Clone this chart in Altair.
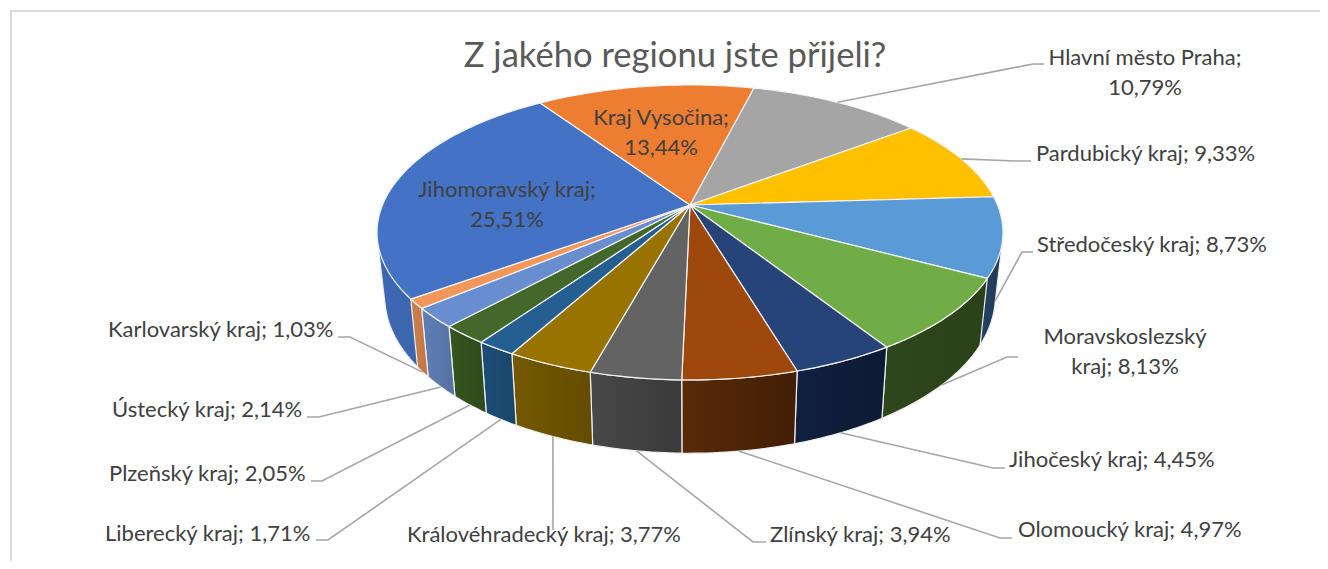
import math
import altair as alt
import pandas as pd

# ---- data (clockwise from the Vysočina / Praha boundary)
names = ["Hlavní město Praha", "Pardubický kraj", "Středočeský kraj", "Moravskoslezský kraj",
         "Jihočeský kraj", "Olomoucký kraj", "Zlínský kraj", "Královéhradecký kraj",
         "Liberecký kraj", "Plzeňský kraj", "Ústecký kraj", "Karlovarský kraj",
         "Jihomoravský kraj", "Kraj Vysočina"]
shares = [10.79, 9.33, 8.73, 8.13, 4.45, 4.97, 3.94, 3.77, 1.71, 2.05, 2.14, 1.03, 25.51, 13.44]
title_text = "Z jakého regionu jste přijeli?"

# ---- style
tops = ["#A5A5A5", "#FFC000", "#5B9BD5", "#70AD47", "#264478", "#9E480E", "#636363", "#997300",
        "#255E91", "#43682B", "#698ED0", "#F1975A", "#4472C4", "#ED7D31"]
walls = {
    2: ("#23415F", "#1F3A55"), 12: ("#3E68B4", "#3A5E9F"),  # silhouette walls come first
    3: ("#2F471C", "#2B4119"), 4: ("#112040", "#0D1A32"),
    5: ("#582A08", "#421E05"), 6: ("#484848", "#3A3A3A"), 7: ("#755800", "#634B00"),
    8: ("#1C4D77", "#1A4568"), 9: ("#36551F", "#2F4A1C"), 10: ("#5F7FB8", "#54719F"),
    11: ("#CC7F4E", "#C27745"),
}
hull_walls = {2, 12}  # walls that reach the disc's left/right silhouette

# ---- page geometry / projection of the tilted disc
W, H, M = 1312, 553, 8
CX, TOP_Y, TOP_A, TOP_B = 690, 205, 307.5, 142.4
BOT_Y, BOT_A, BOT_B = 267, 300, 151.6
K = 0.186
START = 14.2


def project(deg, level):
    t = math.radians(deg)
    u, v = math.sin(t), -math.cos(t)
    w = 1 - K * v
    if level == "top":
        return CX + TOP_A * u / w, TOP_Y + TOP_B * v / w
    return CX + BOT_A * u / w, BOT_Y + BOT_B * v / w


def arc(a0, a1, level):
    n = max(2, int(abs(a1 - a0)) + 2)
    return [project(a0 + (a1 - a0) * i / (n - 1), level) for i in range(n)]


def convex_hull(points):
    pts = sorted(set(points))

    def half(seq):
        out = []
        for p in seq:
            while len(out) > 1 and ((out[-1][0] - out[-2][0]) * (p[1] - out[-2][1])
                                    - (out[-1][1] - out[-2][1]) * (p[0] - out[-2][0])) <= 0:
                out.pop()
            out.append(p)
        return out[:-1]

    return half(pts) + half(pts[::-1])


edges = [START]
for s in shares:
    edges.append(edges[-1] + s * 3.6 * 100 / sum(shares))

xs = alt.Scale(domain=[M, M + W], range=[0, W])
ys = alt.Scale(domain=[M, M + H], range=[0, H])
X = alt.X("x:Q", scale=xs, axis=None)
Y = alt.Y("y:Q", scale=ys, axis=None)


def polygon(points, **mark):
    pts = list(points) + [points[0]]
    df = pd.DataFrame({"x": [p[0] for p in pts], "y": [p[1] for p in pts], "i": range(len(pts))})
    return alt.Chart(df).mark_line(strokeJoin="round", **mark).encode(x=X, y=Y, order="i:Q")


layers = []

# frame (left and top edges of the pasted picture)
frame = pd.DataFrame({"x": [11, 11, M + W], "y": [M + H, 11, 11], "i": [0, 1, 2]})
layers.append(alt.Chart(frame).mark_line(color="#DCDCDC", strokeWidth=2).encode(x=X, y=Y, order="i:Q"))

# outer walls
for i, (c0, c1) in walls.items():
    a0, a1 = edges[i], edges[i + 1]
    pts = arc(a0, a1, "top") + arc(a1, a0, "bot")
    if i in hull_walls:
        pts = convex_hull(pts)
    grad = {"gradient": "linear", "x1": 0, "x2": 1, "y1": 0, "y2": 0,
            "stops": [{"offset": 0, "color": c0}, {"offset": 1, "color": c1}]}
    layers.append(polygon(pts, fill=grad, stroke="#EFEFEF", strokeWidth=1.2))

# top faces
for i, c in enumerate(tops):
    pts = [(CX, TOP_Y)] + arc(edges[i], edges[i + 1], "top")
    layers.append(polygon(pts, fill=c, stroke="#F4F4F4", strokeWidth=1.2))

# ---- label layout: anchor x, baseline y, align, line break, elbow, leader end, leader start blend
layout = {
    0:  dict(x=1145, y=65,  align="center", br=True,  elbow=(1033, 64),  end=(1044, 64),  lvl=0),
    1:  dict(x=1036, y=161, align="left",   br=False, elbow=(1016, 161), end=(1031, 161), lvl=0),
    2:  dict(x=1037, y=252, align="left",   br=False, elbow=(1022, 252), end=(1033, 252), lvl=1),
    3:  dict(x=1125, y=344, align="center", br="Moravskoslezský\nkraj; ", elbow=(1007, 357), end=(1018, 357), lvl=1),
    4:  dict(x=1009, y=467, align="left",   br=False, elbow=(993, 468),  end=(1005, 468), lvl=1),
    5:  dict(x=1018, y=537, align="left",   br=False, elbow=(1000, 538), end=(1012, 538), lvl=1),
    6:  dict(x=770,  y=542, align="left",   br=False, elbow=(753, 542),  end=(766, 542),  lvl=1),
    7:  dict(x=407,  y=542, align="left",   br=False, elbow=(553, 526),  end=(553, 530),  lvl=1),
    8:  dict(x=105,  y=541, align="left",   br=False, elbow=(328, 540),  end=(316, 540),  lvl=1),
    9:  dict(x=109,  y=481, align="left",   br=False, elbow=(322, 481),  end=(311, 481),  lvl=1),
    10: dict(x=112,  y=417, align="left",   br=False, elbow=(319, 417),  end=(307, 417),  lvl=1),
    11: dict(x=108,  y=337, align="left",   br=False, elbow=(350, 337),  end=(338, 337),  lvl=1),
    12: dict(x=507,  y=197, align="center", br=True),
    13: dict(x=661,  y=125, align="center", br=True),
}

# leaders
for i, d in layout.items():
    if "elbow" not in d:
        continue
    mid = (edges[i] + edges[i + 1]) / 2
    p0, p1 = project(mid, "top"), project(mid, "bot")
    start = (p0[0] + (p1[0] - p0[0]) * d["lvl"], p0[1] + (p1[1] - p0[1]) * d["lvl"])
    pts = [start, d["elbow"], d["end"]]
    df = pd.DataFrame({"x": [p[0] for p in pts], "y": [p[1] for p in pts], "i": range(3)})
    layers.append(alt.Chart(df).mark_line(color="#A6A6A6", strokeWidth=1.6).encode(x=X, y=Y, order="i:Q"))

# labels
FONT = "Lato"
for i, d in layout.items():
    pct = f"{shares[i]:.2f}%".replace(".", ",")
    if d["br"] is True:
        text = f"{names[i]};\n{pct}"
    elif d["br"]:
        text = d["br"] + pct
    else:
        text = f"{names[i]}; {pct}"
    df = pd.DataFrame({"x": [d["x"]], "y": [d["y"]], "t": [text]})
    layers.append(alt.Chart(df).mark_text(
        font=FONT, fontSize=22, color="#404040", align=d["align"], baseline="alphabetic",
        lineBreak="\n", lineHeight=29.5,
    ).encode(x=X, y=Y, text="t:N"))

# title
df = pd.DataFrame({"x": [675], "y": [67], "t": [title_text]})
layers.append(alt.Chart(df).mark_text(
    font=FONT, fontSize=34.6, color="#595959", align="center", baseline="alphabetic",
).encode(x=X, y=Y, text="t:N"))

chart = alt.layer(*layers).properties(
    width=W, height=H,
    padding=0,
    autosize=alt.AutoSizeParams(type="none"),
    background="white",
).configure_view(stroke=None)

chart.save("out.html", embed_options={"renderer": "svg", "actions": False})
